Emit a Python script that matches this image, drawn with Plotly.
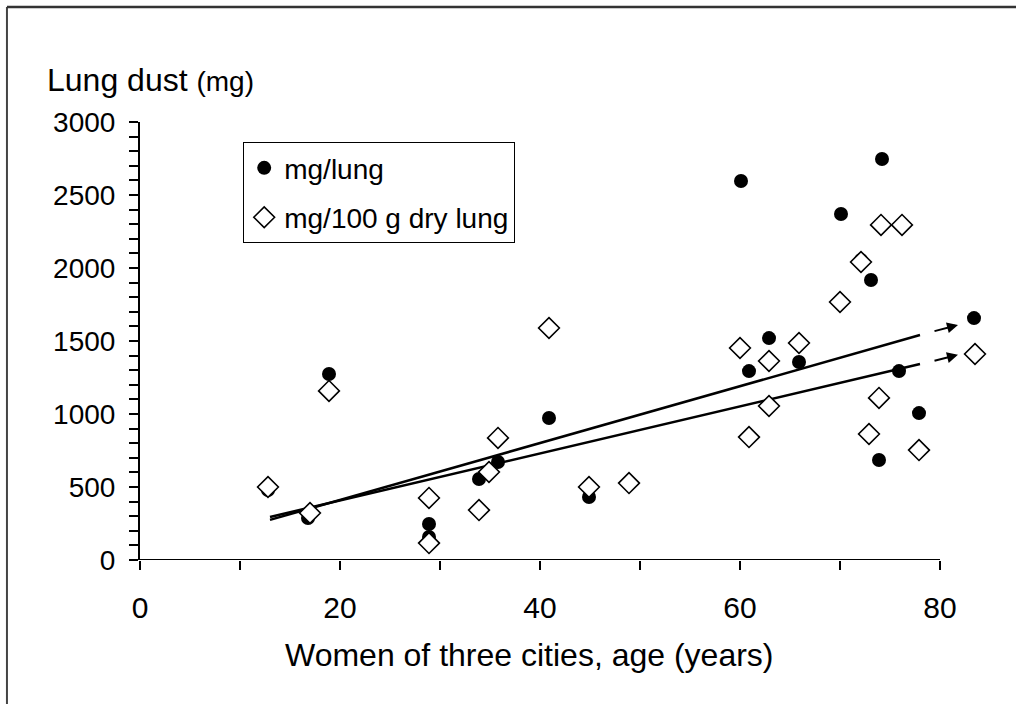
import plotly.graph_objects as go

# ---- data ----
circle_age = [12.8, 16.8, 18.9, 28.9, 28.9, 33.9, 35.8, 40.9, 44.9, 60.1, 60.9,
              62.9, 65.9, 70.1, 72.1, 73.1, 73.9, 74.2, 75.9, 77.9, 83.4]
circle_mg = [479, 288, 1274, 247, 158, 555, 671, 973, 432, 2596, 1294,
             1520, 1356, 2370, 2055, 1918, 685, 2747, 1294, 1006, 1657]

diamond_age = [12.8, 17.0, 18.9, 28.9, 28.9, 33.9, 34.9, 35.8, 40.9, 44.9, 48.9,
               60.0, 60.9, 62.9, 62.9, 65.9, 70.0, 72.1, 72.9, 73.9, 74.1, 76.2,
               77.9, 83.5]
diamond_mg = [500, 322, 1158, 425, 116, 342, 603, 836, 1589, 500, 527,
              1452, 842, 1363, 1055, 1486, 1767, 2041, 863, 1110, 2295, 2295,
              753, 1411]

trend_age = [13, 78]
trend_lung = [275, 1541]
trend_dry = [295, 1342]

arrow_age = [79.3, 81.8]
arrow_lung = [1565, 1610]
arrow_dry = [1362, 1405]

x_tickvals = [0, 20, 40, 60, 80]
x_ticktext = ["0", "20", "40", "60", "80"]
y_tickvals = [0, 500, 1000, 1500, 2000, 2500, 3000]
y_ticktext = ["0", "500", "1000", "1500", "2000", "2500", "3000"]

series_names = ["mg/lung", "mg/100 g dry lung"]
FONT = "Liberation Sans, Arial, sans-serif"

fig = go.Figure()

# trend lines
fig.add_trace(go.Scatter(x=trend_age, y=trend_lung, mode="lines",
                         line=dict(color="black", width=2.5), showlegend=False,
                         hoverinfo="skip"))
fig.add_trace(go.Scatter(x=trend_age, y=trend_dry, mode="lines",
                         line=dict(color="black", width=2.5), showlegend=False,
                         hoverinfo="skip"))

# data
fig.add_trace(go.Scatter(x=circle_age, y=circle_mg, mode="markers", name=series_names[0],
                         legendgroup="a",
                         marker=dict(symbol="circle", size=14, color="black")))
fig.add_trace(go.Scatter(x=diamond_age, y=diamond_mg, mode="markers", name=series_names[1],
                         legendgroup="b",
                         marker=dict(symbol="diamond", size=16, color="white",
                                     line=dict(color="black", width=1.6))))

# arrows continuing the trend lines
for ys in (arrow_lung, arrow_dry):
    fig.add_annotation(x=arrow_age[1], y=ys[1], ax=arrow_age[0], ay=ys[0],
                       xref="x", yref="y", axref="x", ayref="y",
                       showarrow=True, arrowhead=2, arrowsize=1.1, arrowwidth=2,
                       arrowcolor="black", text="")

# x axis line (only to 80)
fig.add_shape(type="line", x0=-0.8, x1=80, y0=0, y1=0, xref="x", yref="y",
              line=dict(color="black", width=2))

# frame of the figure
fig.add_shape(type="line", xref="paper", yref="paper",
              x0=-0.1547, x1=-0.1547, y0=1.2626, y1=-0.40,
              line=dict(color="#444", width=2))
fig.add_shape(type="line", xref="paper", yref="paper",
              x0=-0.1547, x1=1.05, y0=1.2626, y1=1.2626,
              line=dict(color="#333", width=2.5))

# titles
fig.add_annotation(xref="paper", yref="paper", x=-0.110, y=1.097,
                   xanchor="left", yanchor="middle", showarrow=False,
                   text="Lung dust <span style='font-size:28px'>(mg)</span>",
                   font=dict(family=FONT, size=32, color="black"))
fig.add_annotation(xref="paper", yref="paper", x=0.453, y=-0.217,
                   xanchor="center", yanchor="middle", showarrow=False,
                   text="Women of three cities, age (years)",
                   font=dict(family=FONT, size=32, color="black"))

fig.update_layout(
    width=1016, height=704,
    margin=dict(l=140, r=16, t=122, b=144),
    paper_bgcolor="white", plot_bgcolor="white",
    font=dict(family=FONT, color="black"),
    showlegend=True,
    legend=dict(x=0.12, y=0.954, xanchor="left", yanchor="top",
                bgcolor="white", bordercolor="black", borderwidth=1,
                font=dict(family=FONT, size=28, color="black"),
                tracegroupgap=10, itemsizing="trace"),
    xaxis=dict(range=[0, 86], showgrid=False, zeroline=False, showline=False,
               tickmode="array", tickvals=x_tickvals, ticktext=x_ticktext,
               ticks="outside", ticklen=9, tickwidth=2, tickcolor="black",
               minor=dict(dtick=10, tick0=0, ticks="outside", ticklen=9,
                          tickwidth=2, tickcolor="black"),
               tickfont=dict(family=FONT, size=30, color="black"),
               ticklabelstandoff=12),
    yaxis=dict(range=[0, 3000], showgrid=False, zeroline=False, showline=True,
               linecolor="black", linewidth=2,
               tickmode="array", tickvals=y_tickvals, ticktext=y_ticktext,
               ticks="outside", ticklen=9, tickwidth=2, tickcolor="black",
               minor=dict(dtick=100, tick0=0, ticks="outside", ticklen=9,
                          tickwidth=2, tickcolor="black"),
               tickfont=dict(family=FONT, size=28, color="black"),
               ticklabelstandoff=8),
)

fig.write_html("out.html")
